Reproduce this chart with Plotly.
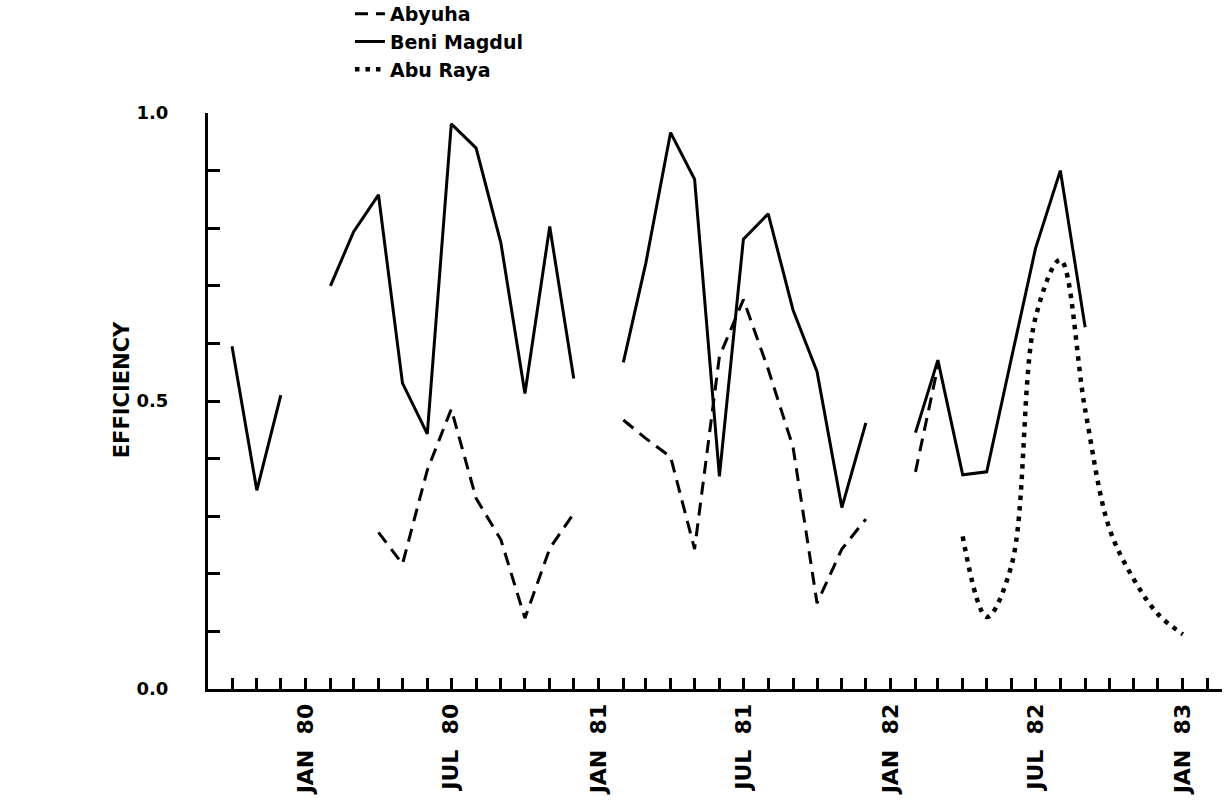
import plotly.graph_objects as go
import pandas as pd

# Monthly observation dates (Oct 1979 .. Jan 1983)
months = pd.date_range("1979-10-01", "1983-01-01", freq="MS").strftime("%Y-%m-%d").tolist()

abyuha = [None, None, None, None, None, None,                      # Oct79-Mar80
          0.272, 0.217, 0.38, 0.486, 0.331, 0.259, 0.123, 0.244, 0.305,  # Apr80-Dec80
          None,                                                     # Jan81
          0.467, 0.435, 0.403, 0.243, 0.577, 0.676, 0.555, 0.42, 0.149, 0.243, 0.295,  # Feb81-Dec81
          None,                                                     # Jan82
          0.377, 0.56,                                              # Feb82-Mar82
          None, None, None, None, None, None, None, None, None, None]  # Apr82-Jan83

beni_magdul = [0.595, 0.345, 0.51,                                 # Oct79-Dec79
               None,                                               # Jan80
               0.70, 0.794, 0.858, 0.531, 0.443, 0.981, 0.939, 0.774, 0.513, 0.803, 0.539,  # Feb80-Dec80
               None,                                               # Jan81
               0.567, 0.739, 0.966, 0.885, 0.369, 0.781, 0.825, 0.658, 0.551, 0.315, 0.462,  # Feb81-Dec81
               None,                                               # Jan82
               0.445, 0.571, 0.372, 0.377, 0.575, 0.765, 0.90, 0.628,  # Feb82-Sep82
               None, None, None, None]                             # Oct82-Jan83

abu_raya = [None] * 30 + [0.265, 0.125, 0.215, 0.645, 0.745, 0.485, 0.28, 0.19, 0.13, 0.095]  # Apr82-Jan83

# Axis ticks
x_tick_vals = pd.date_range("1979-10-01", "1983-02-01", freq="MS").strftime("%Y-%m-%d").tolist()
x_label_map = {"1980-01-01": "JAN  80", "1980-07-01": "JUL  80", "1981-01-01": "JAN  81",
               "1981-07-01": "JUL  81", "1982-01-01": "JAN  82", "1982-07-01": "JUL  82",
               "1983-01-01": "JAN  83"}
x_tick_text = [x_label_map.get(d, "") for d in x_tick_vals]

y_tick_vals = [0.0, 0.1, 0.2, 0.3, 0.4, 0.5, 0.6, 0.7, 0.8, 0.9, 1.0]
y_tick_text = ["0.0", "", "", "", "", "0.5", "", "", "", "", "1.0"]

FONT = "DejaVu Sans"

fig = go.Figure()
fig.add_trace(go.Scatter(x=months, y=abyuha, name="Abyuha", mode="lines",
                         line=dict(color="black", width=3, dash="13px,8px")))
fig.add_trace(go.Scatter(x=months, y=beni_magdul, name="Beni Magdul", mode="lines",
                         line=dict(color="black", width=3)))
fig.add_trace(go.Scatter(x=months, y=abu_raya, name="Abu Raya", mode="lines",
                         line=dict(color="black", width=4.5, dash="4.5px,6px",
                                   shape="spline", smoothing=1.0)))

fig.update_layout(
    width=1225, height=807,
    margin=dict(l=208, r=3, t=113, b=118, pad=0, autoexpand=False),
    paper_bgcolor="white", plot_bgcolor="white",
    font=dict(family=FONT, color="black"),
    showlegend=True,
    legend=dict(x=0.14, xanchor="left", y=1.205, yanchor="top",
                font=dict(family=FONT, size=19, weight="bold", color="black"),
                bgcolor="rgba(0,0,0,0)", tracegroupgap=0, itemwidth=30),
    xaxis=dict(type="date", range=["1979-09-01", "1983-02-19"], automargin=False,
               tickmode="array", tickvals=x_tick_vals, ticktext=x_tick_text,
               tickangle=-90, ticks="inside", ticklen=11, tickwidth=2.5, tickcolor="black",
               showline=True, linewidth=3, linecolor="black",
               showgrid=False, zeroline=False,
               tickfont=dict(family=FONT, size=22, weight="bold", color="black"),
               ticklabelstandoff=3),
    yaxis=dict(range=[0, 1.0], automargin=False,
               tickmode="array", tickvals=y_tick_vals, ticktext=y_tick_text,
               ticks="inside", ticklen=12, tickwidth=3, tickcolor="black",
               showline=True, linewidth=3, linecolor="black",
               showgrid=False, zeroline=False,
               tickfont=dict(family=FONT, size=18, weight="bold", color="black"),
               ticklabelstandoff=33),
    annotations=[dict(text="EFFICIENCY", xref="paper", yref="paper",
                      x=-0.084, y=0.52, xanchor="center", yanchor="middle",
                      textangle=-90, showarrow=False,
                      font=dict(family=FONT, size=21, weight="bold", color="black"))],
)

fig.write_html("out.html")
